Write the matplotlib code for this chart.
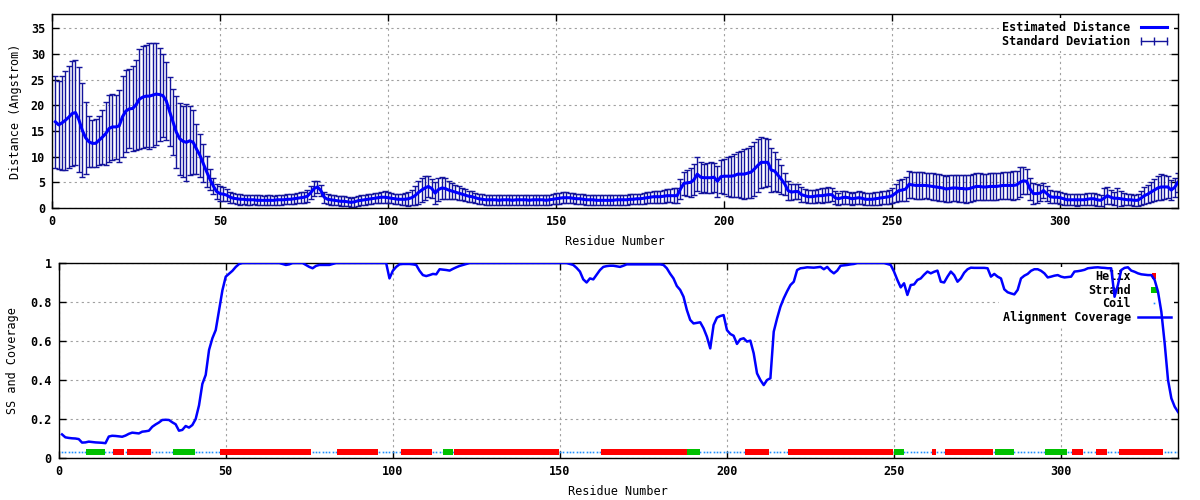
import numpy as np
import matplotlib.pyplot as plt
from matplotlib.lines import Line2D
from matplotlib.ticker import FuncFormatter

plt.rcParams['font.family'] = 'DejaVu Sans Mono'
plt.rcParams['font.weight'] = 'bold'
plt.rcParams['font.size'] = 8.5

# residue numbering
residues = np.arange(1, 336)

# estimated distance (Angstrom), one value per residue
distance = [
    16.8, 16.2, 16.6, 17.1, 17.7, 18.4, 18.6, 17.2, 15.2, 13.7,
    12.9, 12.6, 12.6, 13.2, 13.8, 14.5, 15.5, 15.8, 15.8, 16.0,
    17.8, 18.9, 19.3, 19.4, 20.1, 21.2, 21.6, 21.8, 21.8, 22.0,
    22.2, 22.1, 21.9, 20.9, 18.8, 16.8, 14.8, 13.5, 13.0, 12.8,
    13.1, 12.8, 11.5, 10.3, 8.7, 7.1, 5.6, 4.3, 3.2, 2.8,
    2.7, 2.5, 2.1, 1.9, 1.8, 1.7, 1.7, 1.6, 1.6, 1.6,
    1.5, 1.5, 1.5, 1.5, 1.5, 1.5, 1.6, 1.6, 1.6, 1.7,
    1.7, 1.8, 1.9, 2.0, 2.1, 2.3, 3.0, 3.8, 4.1, 3.4,
    2.1, 1.7, 1.6, 1.5, 1.4, 1.3, 1.3, 1.2, 1.1, 1.2,
    1.4, 1.5, 1.6, 1.7, 1.8, 1.9, 2.0, 2.1, 2.1, 2.0,
    1.9, 1.8, 1.7, 1.7, 1.7, 1.8, 2.0, 2.4, 3.0, 3.5,
    3.9, 4.2, 3.8, 2.9, 3.6, 3.9, 3.8, 3.5, 3.3, 3.1,
    2.9, 2.7, 2.5, 2.3, 2.2, 2.0, 1.8, 1.7, 1.6, 1.6,
    1.6, 1.6, 1.5, 1.6, 1.6, 1.6, 1.5, 1.6, 1.6, 1.6,
    1.6, 1.5, 1.6, 1.6, 1.6, 1.6, 1.5, 1.6, 1.7, 1.8,
    1.9, 2.0, 2.0, 2.0, 1.9, 1.8, 1.8, 1.7, 1.6, 1.6,
    1.6, 1.5, 1.5, 1.5, 1.5, 1.5, 1.5, 1.6, 1.6, 1.6,
    1.6, 1.7, 1.7, 1.8, 1.8, 1.9, 2.0, 2.1, 2.2, 2.2,
    2.2, 2.3, 2.4, 2.4, 2.4, 2.4, 3.7, 4.8, 4.9, 5.0,
    5.5, 6.6, 6.0, 5.9, 5.9, 5.9, 6.0, 5.2, 6.1, 6.2,
    6.2, 6.2, 6.3, 6.6, 6.6, 6.6, 6.8, 7.0, 7.6, 8.3,
    8.9, 8.9, 8.9, 7.4, 7.2, 6.4, 5.6, 4.7, 3.4, 3.1,
    3.2, 3.2, 2.6, 2.4, 2.2, 2.2, 2.3, 2.4, 2.4, 2.5,
    2.6, 2.6, 2.0, 1.8, 2.0, 2.1, 2.0, 1.8, 1.9, 2.0,
    1.9, 1.7, 1.7, 1.7, 1.8, 1.9, 2.0, 2.1, 2.2, 2.4,
    2.9, 3.4, 3.5, 3.7, 4.6, 4.5, 4.4, 4.4, 4.4, 4.4,
    4.3, 4.2, 4.1, 4.0, 3.9, 3.7, 3.8, 3.9, 3.9, 3.8,
    3.8, 3.7, 3.8, 4.0, 4.2, 4.2, 4.1, 4.1, 4.2, 4.2,
    4.2, 4.3, 4.4, 4.4, 4.4, 4.4, 4.5, 5.0, 5.3, 5.2,
    3.7, 2.8, 2.8, 2.9, 3.4, 2.8, 2.2, 2.1, 2.1, 2.0,
    1.8, 1.6, 1.6, 1.6, 1.6, 1.6, 1.6, 1.7, 1.8, 1.8,
    1.6, 1.5, 1.9, 2.4, 2.1, 1.9, 1.9, 1.8, 1.7, 1.6,
    1.6, 1.5, 1.5, 1.9, 2.4, 2.7, 3.1, 3.5, 3.9, 4.1,
    4.1, 4.1, 3.5, 4.0, 5.0,
]

# standard deviation of the distance
std_dev = [
    9.0, 8.6, 9.1, 9.6, 9.9, 10.2, 10.2, 10.2, 9.1, 7.0,
    5.0, 4.6, 4.7, 4.8, 5.2, 6.2, 6.5, 6.5, 6.2, 7.0,
    7.9, 8.0, 7.7, 8.2, 8.8, 9.8, 10.0, 9.9, 10.3, 10.2,
    10.0, 9.0, 8.1, 7.6, 6.8, 6.4, 7.1, 7.0, 6.9, 7.5,
    6.7, 6.2, 4.9, 4.2, 3.7, 3.0, 2.0, 1.6, 1.5, 1.5,
    1.3, 1.2, 1.1, 1.0, 1.0, 1.1, 0.9, 1.0, 1.0, 0.9,
    1.0, 1.0, 0.9, 1.0, 1.0, 0.9, 1.0, 1.0, 0.9, 1.0,
    1.0, 1.0, 1.0, 1.1, 1.1, 1.2, 1.3, 1.4, 1.2, 1.1,
    1.1, 1.0, 1.0, 1.0, 0.9, 1.0, 1.0, 0.9, 0.9, 1.0,
    1.0, 1.0, 1.0, 1.0, 1.0, 1.0, 1.0, 1.1, 1.2, 1.1,
    1.0, 1.0, 1.0, 1.1, 1.2, 1.4, 1.5, 1.8, 2.2, 2.4,
    2.3, 2.1, 1.9, 2.2, 2.3, 2.2, 2.0, 1.8, 1.5, 1.4,
    1.3, 1.2, 1.2, 1.1, 1.1, 1.0, 1.0, 1.0, 1.0, 1.0,
    1.0, 1.0, 1.0, 1.0, 1.0, 1.0, 1.0, 1.0, 1.0, 1.0,
    1.0, 1.0, 1.0, 1.0, 1.0, 1.0, 1.0, 1.0, 1.0, 1.1,
    1.1, 1.1, 1.1, 1.0, 1.0, 1.0, 1.0, 1.0, 1.0, 1.0,
    1.0, 1.0, 1.0, 1.0, 1.0, 1.0, 1.0, 1.0, 1.0, 1.0,
    1.0, 1.0, 1.0, 1.0, 1.0, 1.1, 1.1, 1.1, 1.2, 1.2,
    1.2, 1.3, 1.3, 1.3, 1.4, 1.5, 1.9, 2.2, 2.6, 2.8,
    3.0, 3.3, 3.0, 2.7, 2.9, 3.0, 2.8, 3.0, 3.2, 3.4,
    3.8, 4.0, 4.2, 4.4, 4.6, 4.8, 4.9, 5.0, 5.2, 5.1,
    5.0, 4.8, 4.6, 4.2, 3.8, 3.2, 2.8, 2.2, 1.8, 1.6,
    1.5, 1.4, 1.4, 1.3, 1.3, 1.3, 1.3, 1.3, 1.4, 1.4,
    1.4, 1.3, 1.3, 1.2, 1.3, 1.3, 1.2, 1.2, 1.2, 1.3,
    1.2, 1.2, 1.2, 1.2, 1.3, 1.3, 1.3, 1.3, 1.4, 1.5,
    1.8, 2.0, 2.2, 2.4, 2.6, 2.6, 2.7, 2.6, 2.6, 2.5,
    2.6, 2.6, 2.6, 2.7, 2.6, 2.6, 2.6, 2.5, 2.6, 2.6,
    2.6, 2.7, 2.6, 2.6, 2.6, 2.7, 2.6, 2.6, 2.6, 2.7,
    2.6, 2.6, 2.7, 2.6, 2.7, 2.8, 2.7, 2.9, 2.6, 2.4,
    2.2, 2.0, 1.8, 1.6, 1.5, 1.4, 1.3, 1.2, 1.2, 1.2,
    1.2, 1.1, 1.1, 1.1, 1.2, 1.1, 1.1, 1.2, 1.2, 1.2,
    1.2, 1.1, 1.9, 1.6, 1.4, 1.3, 2.0, 1.5, 1.2, 1.1,
    1.1, 1.1, 1.2, 1.4, 1.6, 1.8, 2.0, 2.2, 2.4, 2.5,
    2.3, 2.2, 2.0, 1.9, 1.8,
]

# alignment coverage, one value per residue
coverage = [
    0.121, 0.106, 0.103, 0.101, 0.100, 0.097, 0.079, 0.080, 0.084, 0.082,
    0.080, 0.079, 0.078, 0.076, 0.110, 0.114, 0.113, 0.111, 0.109, 0.115,
    0.124, 0.130, 0.128, 0.126, 0.135, 0.137, 0.140, 0.160, 0.172, 0.182,
    0.195, 0.196, 0.195, 0.183, 0.173, 0.140, 0.144, 0.164, 0.156, 0.169,
    0.200, 0.270, 0.380, 0.426, 0.554, 0.614, 0.656, 0.759, 0.860, 0.930,
    0.945, 0.960, 0.980, 0.995, 1.000, 1.000, 1.000, 1.000, 1.000, 1.000,
    1.000, 1.000, 1.000, 1.000, 1.000, 1.000, 0.995, 0.990, 0.993, 1.000,
    1.000, 1.000, 1.000, 0.990, 0.980, 0.973, 0.985, 0.990, 0.990, 0.990,
    0.990, 0.995, 1.000, 1.000, 1.000, 1.000, 1.000, 1.000, 1.000, 1.000,
    1.000, 1.000, 1.000, 1.000, 1.000, 1.000, 1.000, 1.000, 0.921, 0.960,
    0.980, 0.993, 0.995, 0.995, 0.995, 0.993, 0.990, 0.960, 0.938, 0.933,
    0.938, 0.944, 0.942, 0.968, 0.966, 0.964, 0.961, 0.970, 0.978, 0.985,
    0.990, 0.995, 1.000, 1.000, 1.000, 1.000, 1.000, 1.000, 1.000, 1.000,
    1.000, 1.000, 1.000, 1.000, 1.000, 1.000, 1.000, 1.000, 1.000, 1.000,
    1.000, 1.000, 1.000, 1.000, 1.000, 1.000, 1.000, 1.000, 1.000, 1.000,
    1.000, 1.000, 0.995, 0.990, 0.975, 0.956, 0.916, 0.900, 0.921, 0.916,
    0.940, 0.964, 0.980, 0.984, 0.986, 0.986, 0.983, 0.980, 0.986, 0.993,
    0.993, 0.993, 0.993, 0.993, 0.993, 0.993, 0.993, 0.993, 0.993, 0.993,
    0.990, 0.973, 0.945, 0.921, 0.882, 0.862, 0.827, 0.759, 0.708, 0.690,
    0.693, 0.696, 0.665, 0.622, 0.562, 0.682, 0.720, 0.728, 0.733, 0.656,
    0.636, 0.627, 0.585, 0.609, 0.614, 0.597, 0.602, 0.537, 0.434, 0.400,
    0.374, 0.400, 0.409, 0.648, 0.716, 0.776, 0.819, 0.855, 0.887, 0.904,
    0.964, 0.973, 0.975, 0.978, 0.977, 0.976, 0.978, 0.980, 0.968, 0.980,
    0.960, 0.947, 0.961, 0.986, 0.988, 0.990, 0.993, 0.995, 1.000, 1.000,
    1.000, 1.000, 1.000, 1.000, 1.000, 1.000, 1.000, 0.995, 0.990, 0.956,
    0.913, 0.875, 0.896, 0.836, 0.887, 0.890, 0.913, 0.921, 0.940, 0.956,
    0.947, 0.955, 0.961, 0.904, 0.900, 0.930, 0.956, 0.938, 0.904, 0.921,
    0.950, 0.968, 0.976, 0.975, 0.975, 0.975, 0.975, 0.973, 0.930, 0.944,
    0.930, 0.921, 0.865, 0.850, 0.844, 0.839, 0.862, 0.921, 0.935, 0.944,
    0.960, 0.968, 0.968, 0.960, 0.947, 0.926, 0.930, 0.935, 0.938, 0.930,
    0.926, 0.928, 0.930, 0.956, 0.958, 0.961, 0.965, 0.973, 0.975, 0.977,
    0.978, 0.976, 0.975, 0.973, 0.973, 0.827, 0.887, 0.964, 0.975, 0.978,
    0.961, 0.955, 0.947, 0.942, 0.940, 0.938, 0.938, 0.913, 0.853, 0.750,
    0.588, 0.400, 0.306, 0.263, 0.236,
]

# secondary structure segments (first, last residue)
helix_segments = [(17, 19), (21, 27), (49, 75), (84, 95), (103, 111),
                  (119, 149), (163, 188), (206, 212), (219, 249), (262, 262),
                  (266, 279), (304, 306), (311, 313), (318, 330)]
strand_segments = [(9, 13), (35, 40), (116, 117), (189, 191), (251, 252),
                   (281, 285), (296, 301)]
ss_level = 0.03

ss = np.array(['C'] * len(residues))
for a, b in helix_segments:
    ss[(residues >= a) & (residues <= b)] = 'H'
for a, b in strand_segments:
    ss[(residues >= a) & (residues <= b)] = 'E'

grid_kw = dict(color='#a0a0a0', linestyle=(0, (2, 3)), linewidth=0.8)


def style_axes(ax):
    ax.grid(True, **grid_kw)
    ax.tick_params(direction='in', top=True, right=True, length=5,
                   width=1, pad=5, labelsize=8.5)
    for s in ax.spines.values():
        s.set_linewidth(1.0)
    ax.set_xlim(0, 335)
    ax.set_xticks(range(0, 301, 50))


fig = plt.figure(figsize=(12, 5), dpi=100)

# top: distance with error bars
ax1 = fig.add_axes([0.0433, 0.584, 0.9383, 0.388])
ax1.errorbar(residues, distance, yerr=std_dev, fmt='none', ecolor='#14149c',
             elinewidth=1.0, capsize=2.2, capthick=1.0, zorder=2)
ax1.plot(residues, distance, color='#0000ff', lw=2.2, zorder=3)
style_axes(ax1)
ax1.set_ylim(0, 37.8)
ax1.set_yticks(range(0, 36, 5))
ax1.set_xlabel('Residue Number', labelpad=5)
ax1.set_ylabel('Distance (Angstrom)', labelpad=6)
h1 = [Line2D([], [], color='#0000ff', lw=2.2),
      Line2D([], [], color='#14149c', lw=1.0, marker='|', markersize=6)]
leg1 = ax1.legend(h1, ['Estimated Distance', 'Standard Deviation'],
                  loc='upper right', markerfirst=False, numpoints=3,
                  handlelength=2.8, handletextpad=0.6, labelspacing=0.05,
                  borderpad=0.3, borderaxespad=0.3, fancybox=False,
                  facecolor='white', edgecolor='none', framealpha=1)
leg1.set_zorder(1.8)

# bottom: secondary structure and coverage
ax2 = fig.add_axes([0.0489, 0.084, 0.9328, 0.39])
rect = [(-0.36, -0.5), (0.36, -0.5), (0.36, 0.5), (-0.36, 0.5), (-0.36, -0.5)]
coil_x = residues[ss == 'C']
helix_x = residues[ss == 'H']
strand_x = residues[ss == 'E']
ax2.plot(coil_x, [ss_level] * len(coil_x), ls='none', marker='s',
         markersize=1.2, color='#1e90ff', markeredgewidth=0, zorder=2)
ax2.plot(helix_x, [ss_level] * len(helix_x), ls='none', marker=rect,
         markersize=4.7, color='#ff0000', markeredgewidth=0, zorder=2)
ax2.plot(strand_x, [ss_level] * len(strand_x), ls='none', marker='s',
         markersize=5.0, color='#00c000', markeredgewidth=0, zorder=2)
ax2.plot(residues, coverage, color='#0000ff', lw=1.8, zorder=3)
style_axes(ax2)
ax2.set_ylim(0, 1.0)
ax2.set_yticks([0, 0.2, 0.4, 0.6, 0.8, 1.0])
ax2.yaxis.set_major_formatter(FuncFormatter(lambda v, p: '%g' % v))
ax2.set_xlabel('Residue Number', labelpad=5)
ax2.set_ylabel('SS and Coverage', labelpad=8)
h2 = [Line2D([], [], ls='none', marker=rect, markersize=4.7, color='#ff0000',
             markeredgewidth=0),
      Line2D([], [], ls='none', marker='s', markersize=5.0, color='#00c000',
             markeredgewidth=0),
      Line2D([], [], ls='none', marker='s', markersize=1.2, color='#1e90ff',
             markeredgewidth=0),
      Line2D([], [], color='#0000ff', lw=1.8)]
leg2 = ax2.legend(h2, ['Helix', 'Strand', 'Coil', 'Alignment Coverage'],
                  loc='upper right', markerfirst=False, numpoints=1,
                  handlelength=2.8, handletextpad=0.6, labelspacing=0.05,
                  borderpad=0.3, borderaxespad=0.3, fancybox=False,
                  facecolor='white', edgecolor='none', framealpha=1)
leg2.set_zorder(1.8)

fig.savefig('out.png', dpi=100)
